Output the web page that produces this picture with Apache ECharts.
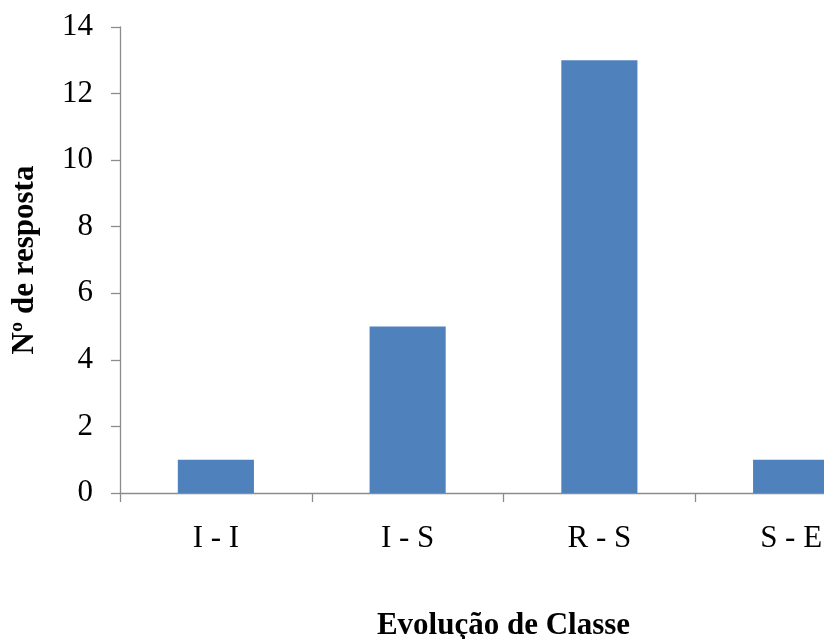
<!DOCTYPE html>
<html>
<head>
<meta charset="utf-8">
<script src="https://cdn.jsdelivr.net/npm/echarts@6/dist/echarts.min.js"></script>
<style>
  html, body { margin: 0; padding: 0; background: #fff; }
  #chart { width: 824px; height: 639px; }
</style>
</head>
<body>
<div id="chart"></div>
<script>
// Respostas por evolução de classe
const categories = ['I - I', 'I - S', 'R - S', 'S - E'];
const respostas = [1, 5, 13, 1];
const yTicks = { min: 0, max: 14, interval: 2 };

const serif = '"Liberation Serif", "DejaVu Serif", serif';
const axisColor = '#8c8c8c';

const chart = echarts.init(document.getElementById('chart'), null, { renderer: 'canvas' });
chart.setOption({
  animation: false,
  backgroundColor: '#ffffff',
  grid: {
    left: 120, top: 27, right: -63, bottom: 146,
    containLabel: false,
    outerBoundsMode: 'none'
  },
  xAxis: {
    type: 'category',
    data: categories,
    name: 'Evolução de Classe',
    nameLocation: 'middle',
    nameGap: 117,
    nameTextStyle: { fontFamily: serif, fontSize: 31, fontWeight: 'bold', color: '#000' },
    axisLine: { lineStyle: { color: axisColor, width: 1.3 } },
    axisTick: { show: true, length: 9, lineStyle: { color: axisColor, width: 1.3 } },
    axisLabel: { fontFamily: serif, fontSize: 31, color: '#000', margin: 30 },
    splitLine: { show: false }
  },
  yAxis: {
    type: 'value',
    min: yTicks.min,
    max: yTicks.max,
    interval: yTicks.interval,
    name: 'Nº de resposta',
    nameLocation: 'middle',
    nameGap: 80,
    nameTextStyle: { fontFamily: serif, fontSize: 31, fontWeight: 'bold', color: '#000' },
    axisLine: { show: true, lineStyle: { color: axisColor, width: 1.3 } },
    axisTick: { show: true, length: 9, lineStyle: { color: axisColor, width: 1.3 } },
    axisLabel: { fontFamily: serif, fontSize: 31, color: '#000', margin: 27 },
    splitLine: { show: false }
  },
  series: [{
    type: 'bar',
    data: respostas,
    barWidth: '39.7%',
    itemStyle: { color: '#4f81bd' }
  }]
});
</script>
</body>
</html>
